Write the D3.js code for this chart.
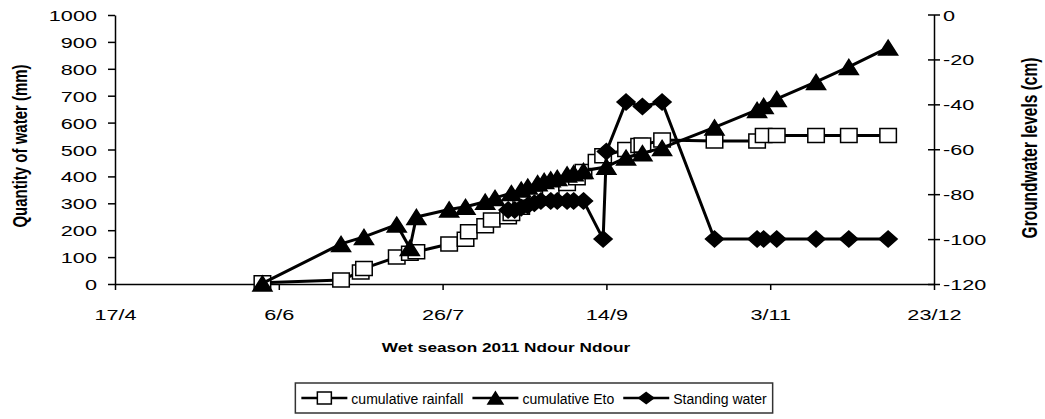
<!DOCTYPE html>
<html>
<head>
<meta charset="utf-8">
<script src="https://cdn.jsdelivr.net/npm/d3@7"></script>
<style>
  body { margin: 0; background: #fff; }
  svg { display: block; }
</style>
</head>
<body>
<svg id="chart" width="1045" height="419"></svg>
<script>
// ---- data -------------------------------------------------------------
const xTickLabels = ["2011-04-17", "2011-06-06", "2011-07-26", "2011-09-14", "2011-11-03", "2011-12-23"];
const leftTicks = [0, 100, 200, 300, 400, 500, 600, 700, 800, 900, 1000];
const rightTicks = [-120, -100, -80, -60, -40, -20, 0];

const rainDates = ["2011-06-01", "2011-06-25", "2011-07-01", "2011-07-02", "2011-07-12", "2011-07-16",
  "2011-07-18", "2011-07-28", "2011-08-02", "2011-08-03", "2011-08-08", "2011-08-10", "2011-08-15",
  "2011-08-16", "2011-08-19", "2011-08-24", "2011-08-28", "2011-09-02", "2011-09-05", "2011-09-07",
  "2011-09-11", "2011-09-13", "2011-09-20", "2011-09-24", "2011-09-25", "2011-10-01", "2011-10-17",
  "2011-10-30", "2011-11-01", "2011-11-05", "2011-11-17", "2011-11-27", "2011-12-09"];
const rainValues = [5, 15, 45, 58, 100, 114, 120, 149, 166, 194, 217, 238, 250, 262, 285, 320, 350,
  374, 395, 418, 455, 477, 500, 515, 517, 535, 532, 532, 552, 552, 552, 552, 552];

const etoDates = ["2011-06-01", "2011-06-25", "2011-07-02", "2011-07-12", "2011-07-16", "2011-07-18",
  "2011-07-28", "2011-08-02", "2011-08-08", "2011-08-11", "2011-08-16", "2011-08-19", "2011-08-21",
  "2011-08-24", "2011-08-26", "2011-08-28", "2011-08-30", "2011-09-02", "2011-09-04", "2011-09-07",
  "2011-09-14", "2011-09-20", "2011-09-25", "2011-10-01", "2011-10-17", "2011-10-30", "2011-11-01",
  "2011-11-05", "2011-11-17", "2011-11-27", "2011-12-09"];
const etoValues = [2, 149, 175, 221, 134, 249, 277, 287, 306, 320, 338, 351, 362, 375, 383, 389, 394,
  407, 412, 420, 436, 470, 486, 506, 582, 647, 662, 688, 751, 807, 879];

const waterDates = ["2011-08-15", "2011-08-17", "2011-08-19", "2011-08-21", "2011-08-23", "2011-08-25",
  "2011-08-28", "2011-08-30", "2011-09-02", "2011-09-04", "2011-09-07", "2011-09-13", "2011-09-14",
  "2011-09-20", "2011-09-25", "2011-10-01", "2011-10-17", "2011-10-30", "2011-11-01", "2011-11-05",
  "2011-11-17", "2011-11-27", "2011-12-09"];
const waterValues = [-87, -87, -86, -85, -84, -83, -83, -83, -83, -83, -83, -100, -61, -39, -41, -39,
  -100, -100, -100, -100, -100, -100, -100];

const seriesNames = ["cumulative rainfall", "cumulative Eto", "Standing water"];
const xTitle = "Wet season 2011 Ndour Ndour";
const yLeftTitle = "Quantity of water (mm)";
const yRightTitle = "Groundwater levels (cm)";

// ---- setup ------------------------------------------------------------
const FONT = "'Liberation Sans', Arial, Helvetica, sans-serif";
const SX = 1.4; // horizontal stretch of the axis lettering
const parse = d3.timeParse("%Y-%m-%d");
const fmt = d3.timeFormat("%-d/%-m");
const num = d => String(d);
const svg = d3.select("#chart");

const x = d3.scaleTime().domain([parse("2011-04-17"), parse("2011-12-23")]).range([115, 934]);
const yL = d3.scaleLinear().domain([0, 1000]).range([284, 15]);
const yR = d3.scaleLinear().domain([-120, 0]).range([284, 14.5]);

// ---- axes -------------------------------------------------------------
svg.append("g")
  .attr("transform", "translate(115,0)")
  .call(d3.axisLeft(yL).tickValues(leftTicks).tickFormat(num).tickSize(7).tickSizeOuter(0))
  .call(g => g.attr("font-family", FONT).attr("font-size", 15.5))
  .call(g => g.selectAll("path,line").attr("stroke", "#000").attr("stroke-width", 1.5))
  .call(g => g.selectAll("text").attr("x", -18 / SX).attr("y", 5.5).attr("dy", null)
    .attr("transform", `scale(${SX},1)`).attr("fill", "#000"));

svg.append("g")
  .attr("transform", "translate(934,0)")
  .call(d3.axisRight(yR).tickValues(rightTicks).tickFormat(num).tickSize(6).tickSizeOuter(0))
  .call(g => g.attr("font-family", FONT).attr("font-size", 15.5))
  .call(g => g.selectAll("path,line").attr("stroke", "#000").attr("stroke-width", 1.5))
  .call(g => g.selectAll(".tick line").attr("x1", -6).attr("x2", 6))
  .call(g => g.selectAll("text").attr("x", 9 / SX).attr("y", 5.5).attr("dy", null)
    .attr("transform", `scale(${SX},1)`).attr("fill", "#000"));

svg.append("g")
  .attr("transform", "translate(0,284)")
  .call(d3.axisBottom(x).tickValues(xTickLabels.map(parse)).tickFormat(fmt).tickSize(6).tickSizeOuter(0))
  .call(g => g.attr("font-family", FONT).attr("font-size", 15.5))
  .call(g => g.selectAll("path,line").attr("stroke", "#000").attr("stroke-width", 1.5))
  .call(g => g.selectAll("text").attr("y", 36).attr("dy", null)
    .attr("transform", `scale(${SX},1)`).attr("fill", "#000"));

// ---- titles -----------------------------------------------------------
svg.append("text")
  .attr("transform", `translate(506,352) scale(${SX},1)`)
  .attr("text-anchor", "middle").attr("font-family", FONT).attr("font-weight", "bold")
  .attr("font-size", 12.3).text(xTitle);

svg.append("text")
  .attr("transform", `translate(27,146) scale(${SX},1) rotate(-90)`)
  .attr("text-anchor", "middle").attr("font-family", FONT).attr("font-weight", "bold")
  .attr("font-size", 15).text(yLeftTitle);

svg.append("text")
  .attr("transform", `translate(1037,148) scale(${SX},1) rotate(-90)`)
  .attr("text-anchor", "middle").attr("font-family", FONT).attr("font-weight", "bold")
  .attr("font-size", 15.5).text(yRightTitle);

// ---- marker shapes ------------------------------------------------------
const shapes = {
  square: (w, h) => `M${-w / 2},${-h / 2}H${w / 2}V${h / 2}H${-w / 2}Z`,
  triangle: (w, h) => `M0,${-h / 2}L${w / 2},${h / 2}L${-w / 2},${h / 2}Z`,
  diamond: (w, h) => `M0,${-h / 2}L${w / 2},0L0,${h / 2}L${-w / 2},0Z`
};
const styles = [
  { shape: "square", w: 16.5, h: 14, fill: "#fff", lw: 14, lh: 12 },
  { shape: "triangle", w: 19, h: 15, fill: "#000", lw: 15, lh: 12 },
  { shape: "diamond", w: 18, h: 16, fill: "#000", lw: 15, lh: 11 }
];

const series = [
  { dates: rainDates, values: rainValues, y: yL },
  { dates: etoDates, values: etoValues, y: yL },
  { dates: waterDates, values: waterValues, y: yR }
];

// ---- series -------------------------------------------------------------
series.forEach((s, i) => {
  const st = styles[i];
  const pts = s.dates.map((d, k) => ({ date: parse(d), value: s.values[k] }));
  const g = svg.append("g");
  g.append("path")
    .datum(pts)
    .attr("fill", "none").attr("stroke", "#000").attr("stroke-width", 3)
    .attr("stroke-linejoin", "round")
    .attr("d", d3.line().x(p => x(p.date)).y(p => s.y(p.value)));
  g.selectAll("path.mark").data(pts).join("path")
    .attr("class", "mark")
    .attr("transform", p => `translate(${x(p.date)},${s.y(p.value)})`)
    .attr("d", shapes[st.shape](st.w, st.h))
    .attr("fill", st.fill).attr("stroke", "#000").attr("stroke-width", 1.5);
});

// ---- legend -------------------------------------------------------------
const legend = svg.append("g");
const box = legend.append("rect")
  .attr("fill", "#fff").attr("stroke", "#333").attr("stroke-width", 1.5);
let cx = 0;
seriesNames.forEach((name, i) => {
  const st = styles[i];
  const it = legend.append("g").attr("transform", `translate(${cx},0)`);
  it.append("line").attr("x1", 0).attr("x2", 46).attr("y1", 0).attr("y2", 0)
    .attr("stroke", "#000").attr("stroke-width", 2.5);
  it.append("path").attr("transform", "translate(23,0)")
    .attr("d", shapes[st.shape](st.lw, st.lh))
    .attr("fill", st.fill).attr("stroke", "#000").attr("stroke-width", 1.5);
  const t = it.append("text")
    .attr("transform", "translate(50,5.5)")
    .attr("font-family", FONT).attr("font-size", 14).attr("fill", "#000").text(name);
  const w = t.node().getComputedTextLength();
  cx += 50 + w + 9;
});
const total = cx - 9;
const left = 534 - total / 2;
legend.attr("transform", `translate(${left},398)`);
box.attr("x", -6).attr("y", -15).attr("width", total + 12).attr("height", 30);
</script>
</body>
</html>
